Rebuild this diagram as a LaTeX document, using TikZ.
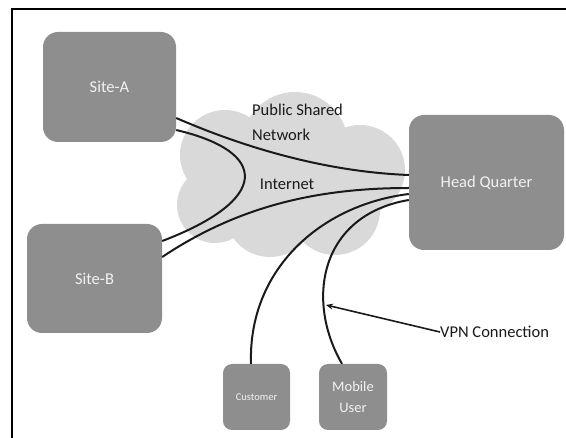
\documentclass[tikz,border=0pt]{standalone}
\usepackage{fontspec}
\setmainfont{Carlito}
\usetikzlibrary{arrows.meta}
\definecolor{boxgray}{HTML}{8E8E8E}
\definecolor{cloudgray}{HTML}{D9D9D9}
\definecolor{boxtext}{HTML}{F2F2F2}
\definecolor{ink}{HTML}{1A1A1A}
\tikzset{
  box/.style={fill=boxgray, draw=none, rounded corners=15pt, text=boxtext,
    font=\fontsize{16.5}{20}\selectfont, align=center, inner sep=0pt},
  smallbox/.style={box, rounded corners=9pt},
  link/.style={draw=ink, line width=2pt},
  label/.style={text=ink, font=\fontsize{16.5}{25}\selectfont, inner sep=0pt}
}
\begin{document}
\begin{tikzpicture}[x=1pt, y=-1pt]
\useasboundingbox (0,0) rectangle (566,438);
% frame
\draw[line width=2pt] (12,438) -- (12,9.5) -- (566,9.5);

% cloud of the public network
\fill[cloudgray]
  (295,145) circle (53)
  (225,155) circle (45)
  (215,205) circle (38)
  (270,212) circle (45)
  (335,210) circle (45)
  (360,170) circle (45)
  (300,185) circle (55);

% sites
\node[box, minimum width=133pt, minimum height=110pt] (siteA) at (109.5,87) {Site-A};
\node[box, minimum width=135pt, minimum height=109pt] (siteB) at (94.5,278.5) {Site-B};
\node[box, minimum width=155pt, minimum height=135pt] (hq) at (486.5,182.5) {Head Quarter};
\node[smallbox, minimum width=67pt, minimum height=66pt,
      font=\fontsize{10.5}{12}\selectfont] (cust) at (256.5,397) {Customer};
\node[smallbox, minimum width=68pt, minimum height=66pt,
      font=\fontsize{14.5}{21}\selectfont] (mobile) at (353,397) {Mobile\\User};

% labels inside the cloud
\node[label, align=left, anchor=north west] (psn) at (252,104) {Public Shared\\Network};
\node[label] (inet) at (287,184) {Internet};
\node[label, anchor=west] (vpn) at (440,332) {VPN Connection};
\coordinate (vpntip) at (326,305);

% connections through the internet
\draw[link] ([yshift=-31pt]siteA.east) .. controls (250,150) and (330,172) .. ([yshift=7.5pt]hq.west);
\draw[link] ([yshift=-43pt]siteA.east) .. controls (270,152) and (270,200) .. ([yshift=37.5pt]siteB.east);
\draw[link] ([yshift=21.5pt]siteB.east) .. controls (240,205) and (320,188) .. ([yshift=-5.5pt]hq.west);
\draw[link] ([xshift=-5.5pt]cust.north) .. controls (248,270) and (320,205) .. ([yshift=-11.5pt]hq.west);
\draw[link] ([xshift=-11pt]mobile.north) .. controls (305,300) and (320,215) .. ([yshift=-17.5pt]hq.west);

% pointer to a VPN link
\draw[draw=ink, line width=1.6pt, -{Stealth[length=7pt,width=6pt]}] (vpn.west) -- (vpntip);
\end{tikzpicture}
\end{document}
